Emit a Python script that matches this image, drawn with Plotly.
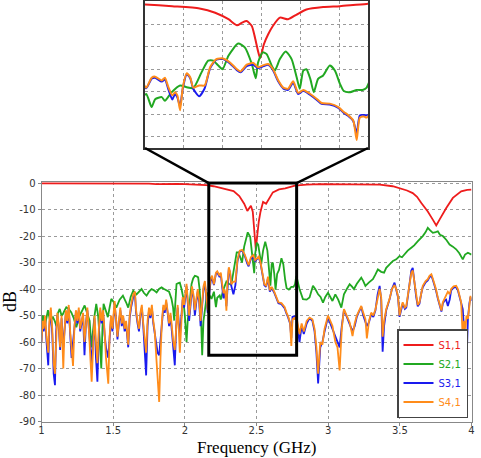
import plotly.graph_objects as go

# ---------------- data ----------------
freq_s11 = [1.0, 1.2, 1.4, 1.6, 1.7, 1.75, 1.8, 1.85, 1.9, 1.95,
            2.0, 2.05, 2.1, 2.15, 2.2, 2.27, 2.34, 2.38, 2.414, 2.436,
            2.449, 2.461, 2.474, 2.482, 2.49, 2.495, 2.499, 2.505, 2.516, 2.528,
            2.546, 2.567, 2.589, 2.614, 2.657, 2.7, 2.768, 2.85, 2.95, 3.1,
            3.25, 3.36, 3.45, 3.5, 3.55, 3.59, 3.62, 3.65, 3.695, 3.73,
            3.754, 3.777, 3.8, 3.824, 3.87, 3.928, 3.97, 4.0]
db_s11 = [-0.1, -0.1, -0.1, -0.2, -0.3, -0.2, -0.4, -0.3, -0.4, -0.3,
          -0.4, -0.5, -0.6, -0.8, -1.2, -2.0, -3.0, -4.9, -7.8, -10.5,
          -9.3, -8.6, -10.8, -15.9, -22.0, -25.0, -23.0, -18.9, -14.5, -10.8,
          -7.1, -7.8, -5.7, -3.5, -2.4, -2.0, -1.0, -0.6, -0.4, -0.4,
          -0.5, -0.6, -1.2, -1.9, -2.8, -3.8, -5.2, -7.5, -10.7, -13.8,
          -16.0, -13.8, -11.5, -9.4, -5.6, -3.1, -2.6, -2.5]

freq_s21 = [1.0, 1.01, 1.022, 1.035, 1.045, 1.06, 1.08, 1.092, 1.104, 1.115,
            1.127, 1.14, 1.15, 1.162, 1.173, 1.19, 1.208, 1.225, 1.243, 1.255,
            1.266, 1.285, 1.301, 1.318, 1.336, 1.348, 1.359, 1.37, 1.382, 1.395,
            1.405, 1.417, 1.425, 1.433, 1.448, 1.463, 1.475, 1.487, 1.505, 1.522,
            1.545, 1.568, 1.59, 1.605, 1.622, 1.64, 1.663, 1.68, 1.698, 1.715,
            1.733, 1.75, 1.768, 1.785, 1.803, 1.82, 1.838, 1.855, 1.873, 1.89,
            1.907, 1.918, 1.926, 1.934, 1.942, 1.955, 1.965, 1.977, 1.988, 2.0,
            2.012, 2.02, 2.028, 2.038, 2.047, 2.058, 2.07, 2.082, 2.093, 2.103,
            2.111, 2.121, 2.13, 2.14, 2.152, 2.162, 2.175, 2.186, 2.203, 2.217,
            2.226, 2.243, 2.251, 2.268, 2.29, 2.307, 2.324, 2.345, 2.362, 2.375,
            2.388, 2.399, 2.414, 2.439, 2.456, 2.474, 2.484, 2.49, 2.502, 2.512,
            2.525, 2.533, 2.546, 2.561, 2.576, 2.589, 2.597, 2.606, 2.614, 2.624,
            2.633, 2.644, 2.657, 2.674, 2.687, 2.7, 2.71, 2.726, 2.743, 2.758,
            2.768, 2.778, 2.8, 2.824, 2.85, 2.87, 2.894, 2.91, 2.93, 2.947,
            2.964, 2.98, 2.999, 3.015, 3.03, 3.05, 3.07, 3.092, 3.11, 3.13,
            3.15, 3.165, 3.18, 3.2, 3.231, 3.245, 3.26, 3.285, 3.312, 3.33,
            3.347, 3.37, 3.39, 3.405, 3.43, 3.452, 3.475, 3.498, 3.515, 3.53,
            3.555, 3.58, 3.6, 3.626, 3.645, 3.66, 3.68, 3.695, 3.71, 3.73,
            3.75, 3.765, 3.78, 3.8, 3.825, 3.847, 3.87, 3.893, 3.915, 3.939,
            3.955, 3.975, 4.0]
db_s21 = [-53, -50, -54.4, -51, -48, -52, -50.6, -52, -54, -49,
          -47.5, -50, -49.4, -48, -46.9, -47.5, -48.8, -51, -54.4, -52,
          -50, -48, -46.2, -49, -52, -62, -54.4, -50, -45.6, -50,
          -58, -70, -55, -45.6, -48, -50.6, -47, -43.7, -45, -47,
          -44, -42.5, -45, -47, -43, -40.6, -42, -41, -40, -41.5,
          -42.5, -41, -40, -40.5, -41.3, -40, -39.4, -40, -40.6, -41,
          -43.7, -47, -51.9, -44, -38.1, -37.8, -37.6, -40, -43, -50,
          -60, -52, -47, -42, -38.1, -36, -35, -35.2, -35.6, -40,
          -47, -65, -52, -48.1, -43, -41.3, -42.5, -43.7, -41, -46.8,
          -43.3, -42.4, -44, -40.3, -37.2, -38, -38.4, -31.4, -26.2, -26.2,
          -28.4, -30, -24, -18.6, -20.3, -27.7, -34, -27, -22.5, -23.3,
          -28.4, -30.6, -25.5, -22.1, -25.5, -33.6, -38.7, -30.6, -30, -34.3,
          -40.2, -34.3, -32.8, -28.4, -30.6, -36.5, -39.7, -40.2, -39.2, -39.2,
          -38.3, -35, -40, -43.8, -44, -43.2, -38.8, -40, -42, -43,
          -45.1, -43, -41.4, -43, -44.5, -42, -44, -47, -42, -40,
          -38.2, -39, -40, -38, -35.7, -37, -38.8, -37.5, -36.3, -34.5,
          -32.6, -33.5, -33.8, -32, -30.5, -29.4, -28.8, -27.6, -28, -27,
          -25.5, -24.4, -23.5, -21.9, -21, -20, -18.5, -16.9, -17.8, -18.8,
          -18.5, -18.2, -19.5, -20, -21.5, -23.2, -24, -25, -26.5, -28.8,
          -27, -26.3, -27]

freq_s31_s41 = [1.000, 1.008, 1.015, 1.025, 1.035, 1.047, 1.055, 1.065, 1.075, 1.085,
                1.094, 1.102, 1.11, 1.12, 1.13, 1.14, 1.152, 1.16, 1.17, 1.18,
                1.19, 1.2, 1.21, 1.22, 1.23, 1.24, 1.25, 1.26, 1.27, 1.28,
                1.29, 1.3, 1.31, 1.32, 1.33, 1.34, 1.35, 1.36, 1.37, 1.38,
                1.39, 1.4, 1.41, 1.42, 1.43, 1.44, 1.45, 1.466, 1.475, 1.485,
                1.495, 1.51, 1.52, 1.53, 1.54, 1.55, 1.56, 1.57, 1.58, 1.59,
                1.605, 1.615, 1.625, 1.64, 1.652, 1.66, 1.67, 1.68, 1.69, 1.7,
                1.71, 1.72, 1.73, 1.74, 1.75, 1.76, 1.77, 1.78, 1.79, 1.8,
                1.81, 1.821, 1.83, 1.84, 1.85, 1.86, 1.87, 1.88, 1.89, 1.9,
                1.91, 1.92, 1.93, 1.94, 1.95, 1.965, 1.975, 1.985, 1.995, 2.005,
                2.012, 2.02, 2.03, 2.04, 2.05, 2.06, 2.07, 2.08, 2.09, 2.1,
                2.11, 2.12, 2.13, 2.14, 2.15, 2.16, 2.17, 2.18, 2.19, 2.203,
                2.217, 2.226, 2.243, 2.251, 2.26, 2.27, 2.277, 2.283, 2.29, 2.297,
                2.307, 2.316, 2.324, 2.339, 2.353, 2.367, 2.383, 2.4, 2.418, 2.435,
                2.445, 2.461, 2.478, 2.49, 2.504, 2.516, 2.528, 2.542, 2.555, 2.567,
                2.58, 2.593, 2.606, 2.623, 2.64, 2.653, 2.674, 2.696, 2.71, 2.72,
                2.734, 2.743, 2.751, 2.762, 2.768, 2.778, 2.79, 2.8, 2.815, 2.83,
                2.85, 2.87, 2.89, 2.905, 2.918, 2.93, 2.945, 2.96, 2.975, 2.999,
                3.015, 3.03, 3.05, 3.065, 3.08, 3.095, 3.11, 3.13, 3.15, 3.17,
                3.185, 3.2, 3.215, 3.231, 3.245, 3.26, 3.27, 3.285, 3.3, 3.315,
                3.33, 3.345, 3.359, 3.37, 3.38, 3.39, 3.405, 3.428, 3.445, 3.463,
                3.475, 3.487, 3.498, 3.51, 3.52, 3.535, 3.545, 3.557, 3.568, 3.58,
                3.59, 3.602, 3.614, 3.625, 3.637, 3.65, 3.66, 3.68, 3.695, 3.707,
                3.72, 3.73, 3.74, 3.752, 3.765, 3.778, 3.79, 3.8, 3.81, 3.823,
                3.835, 3.848, 3.858, 3.875, 3.893, 3.905, 3.916, 3.928, 3.939, 3.948,
                3.958, 3.965, 3.975, 3.985, 3.993, 4.0]
db_s41 = [-60, -52, -55, -50, -58, -64, -52, -47, -55, -68,
          -72, -55, -49, -53, -62, -50, -70, -56, -48, -52,
          -46, -56, -63, -69, -54, -48, -52, -47, -55, -51,
          -49, -60, -52, -47, -55, -64, -75, -62, -50, -60,
          -68, -55, -47, -52, -48, -56, -66, -75.7, -58, -50,
          -55, -44.5, -50, -58, -52, -47, -53, -50, -55, -52,
          -61, -50, -46, -42, -41, -48, -52, -55, -49, -46,
          -53, -60, -64, -52, -47, -50, -46, -52, -56, -65,
          -75, -82.6, -66, -52, -46, -48, -44, -48, -53, -49,
          -56, -60, -63, -52, -46, -64, -50, -43, -46, -40,
          -38, -44, -50, -45, -39, -42, -48, -44, -40, -44,
          -52, -46, -39, -37, -42, -48, -41, -36, -35, -38.2,
          -33.8, -33.3, -35, -33.8, -38, -41.6, -40.2, -41.6, -48.2, -38,
          -31.8, -33.6, -38.2, -37.2, -37.2, -29.1, -25.5, -25.2, -27, -29.9,
          -31, -28, -27.2, -29.1, -28.2, -27.7, -29.9, -35, -38.2, -38.7,
          -35.3, -40.5, -39.2, -40.9, -43.1, -45, -45.3, -46.8, -49, -50.2,
          -52.7, -61.5, -51.5, -51, -51.5, -50.1, -54, -57, -53, -56,
          -52, -50.8, -51.4, -55, -62, -72, -60, -61, -55, -50,
          -52, -54, -60, -62, -70.7, -55, -47.6, -50, -52.6, -57.8,
          -53, -50, -48, -46.4, -49, -51.4, -58.6, -52, -48.9, -50,
          -47.6, -43, -40, -43, -58, -52, -47.6, -43.8, -40, -38.5,
          -40, -42.6, -50, -47, -45, -47, -46.4, -42, -37.6, -34,
          -33, -38, -42.6, -46, -45, -41, -38.8, -37, -36.3, -35,
          -34.4, -36, -37.6, -40, -43.2, -46, -48.1, -45, -43.8, -42,
          -41, -42, -40, -39, -38.8, -40, -42.6, -45, -58.9, -52,
          -55, -50, -51.3, -45, -42.6, -44]
db_s31 = [-60, -53, -56, -51, -60, -68.8, -54, -48, -57, -72,
          -76.3, -56, -50, -54, -63, -51, -62, -55, -49, -53,
          -47, -57, -66, -60, -55, -49, -53, -48, -56, -52,
          -50, -65, -53, -48, -56, -62, -68, -60, -51, -66,
          -75, -57, -48, -53, -49, -57, -62, -66, -57, -51,
          -56, -46, -51, -59, -53, -48, -54, -51, -56, -53,
          -62, -51, -47, -43, -42, -49, -53, -56, -50, -47,
          -54, -64, -72.6, -54, -48, -51, -47, -53, -57, -62,
          -64, -65, -60, -53, -47, -49, -45, -49, -54, -50,
          -57, -63, -68.8, -54, -47, -58, -51, -44, -47, -41,
          -39, -45, -52, -46, -40, -43, -50, -45, -41, -45,
          -54, -47, -40, -38, -43, -49, -42, -37, -36, -38.5,
          -34.2, -33.8, -35.5, -34.5, -39, -43.5, -41, -42.5, -46.5, -38.5,
          -32.2, -34, -38.8, -42, -38.5, -29.6, -25.8, -25.5, -27.4, -30.3,
          -31.4, -28.6, -28, -29.5, -28.6, -28, -30.3, -35.5, -38.6, -39.2,
          -36, -41, -39.6, -41.3, -43.5, -45.4, -45.7, -47.2, -49.4, -50.6,
          -53, -58.5, -50.5, -50.3, -50.5, -50.5, -56, -60, -54, -57,
          -53, -51, -52, -56, -64, -75.6, -62, -60, -56, -50.5,
          -53, -55, -58, -60, -62, -54, -48, -50.5, -53, -56,
          -54, -50.5, -48.5, -46.8, -50, -52, -54, -52.5, -49.5, -50.5,
          -48, -42, -38.8, -44, -63.7, -54, -48, -44, -40, -37.6,
          -40.5, -43, -50.5, -47.5, -45.5, -47.5, -47, -42.5, -37, -33,
          -32, -38.5, -43, -46.5, -45.5, -41.5, -39.3, -37.5, -36.8, -35.5,
          -35, -36.5, -38, -40.5, -43.6, -46.5, -48.5, -45.5, -44.5, -44,
          -46.4, -44, -40.5, -39.5, -39.3, -40.5, -43, -45.5, -47.6, -55,
          -68.9, -68.8, -51.3, -45.5, -43, -44.5]

assert len(freq_s11) == len(db_s11)
assert len(freq_s21) == len(db_s21)
assert len(freq_s31_s41) == len(db_s31) == len(db_s41)

series_names = ["S1,1", "S2,1", "S3,1", "S4,1"]
series_colors = ["#ee1c1c", "#21a821", "#1a1aee", "#ff8c1a"]
series_x = [freq_s11, freq_s21, freq_s31_s41, freq_s31_s41]
series_y = [db_s11, db_s21, db_s31, db_s41]

x_ticks = [1, 1.5, 2, 2.5, 3, 3.5, 4]
y_ticks = [0, -10, -20, -30, -40, -50, -60, -70, -80, -90]
zoom_x = [2.167, 2.78]      # rectangle marked on the main chart (GHz)
zoom_y = [-65, 0]           # rectangle marked on the main chart (dB)
inset_x = [2.2, 2.772]
inset_y = [-65, 0.3]

# ---------------- layout geometry ----------------
W, H = 481, 458
main_xdom = [41.5 / W, 471.5 / W]
main_ydom = [1 - 421.5 / H, 1 - 182 / H]
main_xrange = [1, 4]
main_yrange = [-90, 0.4]
ins_xdom = [145 / W, 368 / W]
ins_ydom = [1 - 148 / H, 1 - 1 / H]


def paper_x(v):
    return main_xdom[0] + (v - main_xrange[0]) / (main_xrange[1] - main_xrange[0]) * (main_xdom[1] - main_xdom[0])


def paper_y(v):
    return main_ydom[0] + (v - main_yrange[0]) / (main_yrange[1] - main_yrange[0]) * (main_ydom[1] - main_ydom[0])


fig = go.Figure()
for name, col, xs, ys in zip(series_names, series_colors, series_x, series_y):
    fig.add_trace(go.Scatter(
        x=xs, y=ys, mode="lines", xaxis="x", yaxis="y",
        line=dict(color=col, width=1.8),
        name="<span style='color:%s'>%s</span>" % (col, name),
    ))
for name, col, xs, ys in zip(series_names, series_colors, series_x, series_y):
    fig.add_trace(go.Scatter(
        x=xs, y=ys, mode="lines", xaxis="x2", yaxis="y2",
        line=dict(color=col, width=2, shape="spline", smoothing=0.6),
        showlegend=False, name=name,
    ))

tickfont = dict(family="DejaVu Sans", size=10, color="#333333")
grid = dict(showgrid=True, gridcolor="#9a9a9a", griddash="dot", gridwidth=1)

fig.update_layout(
    width=W, height=H, autosize=False,
    margin=dict(l=0, r=0, t=0, b=0),
    paper_bgcolor="white", plot_bgcolor="white",
    xaxis=dict(domain=main_xdom, range=main_xrange, tickvals=x_ticks,
               ticktext=[("%g" % v) for v in x_ticks], tickfont=tickfont,
               ticks="outside", ticklen=3, tickcolor="#888888",
               ticklabelstandoff=-4,
               showline=True, linecolor="#888888", linewidth=1, mirror=True,
               zeroline=False, automargin=False, **grid),
    yaxis=dict(domain=main_ydom, range=main_yrange, tickvals=y_ticks,
               ticktext=[("%d" % v) for v in y_ticks], tickfont=tickfont,
               ticks="outside", ticklen=3, tickcolor="#888888",
               showline=True, linecolor="#888888", linewidth=1, mirror=True,
               zeroline=False, automargin=False, **grid),
    xaxis2=dict(domain=ins_xdom, range=inset_x, dtick=0.1, tick0=2.2,
                showticklabels=False, showline=True, linecolor="#333333",
                linewidth=2, mirror=True, zeroline=False, anchor="y2", **grid),
    yaxis2=dict(domain=ins_ydom, range=inset_y, dtick=10, tick0=0,
                showticklabels=False, showline=True, linecolor="#333333",
                linewidth=2, mirror=True, zeroline=False, anchor="x2", **grid),
    legend=dict(x=468 / W, xanchor="right", y=1 - 418 / H, yanchor="bottom",
                bgcolor="white", bordercolor="#444444", borderwidth=1.5,
                font=dict(family="DejaVu Sans", size=10), tracegroupgap=0,
                itemwidth=30),
    showlegend=True,
)

# zoom rectangle and connector lines
fig.add_shape(type="rect", xref="x", yref="y", x0=zoom_x[0], x1=zoom_x[1],
              y0=zoom_y[0], y1=zoom_y[1], line=dict(color="black", width=3),
              layer="above")
fig.add_shape(type="line", xref="paper", yref="paper",
              x0=ins_xdom[0], y0=ins_ydom[0], x1=paper_x(zoom_x[0]), y1=paper_y(zoom_y[1]),
              line=dict(color="black", width=2.5))
fig.add_shape(type="line", xref="paper", yref="paper",
              x0=ins_xdom[1], y0=ins_ydom[0], x1=paper_x(zoom_x[1]), y1=paper_y(zoom_y[1]),
              line=dict(color="black", width=2.5))

# axis titles
fig.add_annotation(text="dB", xref="paper", yref="paper", x=10 / W, y=1 - 302 / H,
                   showarrow=False, textangle=-90, xanchor="center", yanchor="middle",
                   font=dict(family="Liberation Serif", size=18, color="black"))
fig.add_annotation(text="Frequency (GHz)", xref="paper", yref="paper",
                   x=(main_xdom[0] + main_xdom[1]) / 2, y=0,
                   showarrow=False, xanchor="center", yanchor="bottom", borderpad=0,
                   font=dict(family="Liberation Serif", size=17, color="black"))

fig.write_html("out.html")
